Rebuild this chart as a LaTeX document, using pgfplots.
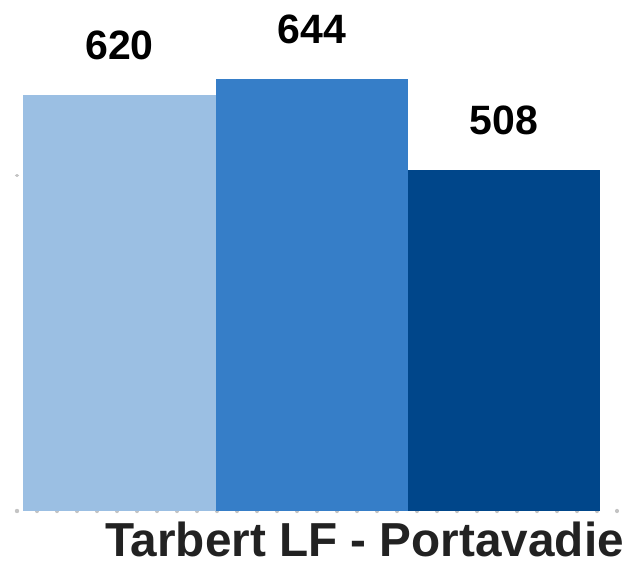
\documentclass[border=0pt]{standalone}
\usepackage{fontspec}
\setmainfont{Liberation Sans}
\usepackage{pgfplots}
\pgfplotsset{compat=1.18}
\definecolor{barA}{HTML}{9BBFE3}
\definecolor{barB}{HTML}{367EC8}
\definecolor{barC}{HTML}{00468A}
\definecolor{dotc}{HTML}{C4C4C4}
\definecolor{txt}{HTML}{222222}
\begin{document}
\begin{tikzpicture}
\begin{axis}[
  scale only axis,
  width=600bp, height=511bp,
  xmin=0, xmax=600, ymin=0, ymax=761.5,
  enlargelimits=false, clip=false,
  axis x line=bottom, axis y line=left,
  axis line style={draw=none},
  xtick={0,20,...,600}, ytick={0,500},
  xticklabels={}, yticklabels={},
  major tick length=0.6bp,
  tick align=center,
  every tick/.style={line width=3.6bp, color=dotc, line cap=round},
  /pgf/number format/assume math mode=true,
  xlabel={\fontsize{47.7bp}{50bp}\selectfont\bfseries Tarbert LF - Portavadie},
  xlabel style={at={(axis description cs:0.1467,-0.09)}, anchor=base west, inner sep=0pt, text=txt},
  nodes near coords,
  every node near coord/.append style={font=\fontsize{41bp}{44bp}\selectfont\bfseries, anchor=south, inner sep=0pt, yshift=35bp, text=black},
]
\addplot[ybar, bar shift=0pt, bar width=193, fill=barA, draw=none] coordinates {(102.5,620)};
\addplot[ybar, bar shift=0pt, bar width=192, fill=barB, draw=none] coordinates {(295,644)};
\addplot[ybar, bar shift=0pt, bar width=192, fill=barC, draw=none] coordinates {(487,508)};
\coordinate (O) at (axis cs:0,0);
\end{axis}
\pgfresetboundingbox
\path ([shift={(-17bp,-57bp)}]O) rectangle ++(632bp,568bp);
\end{tikzpicture}
\end{document}
